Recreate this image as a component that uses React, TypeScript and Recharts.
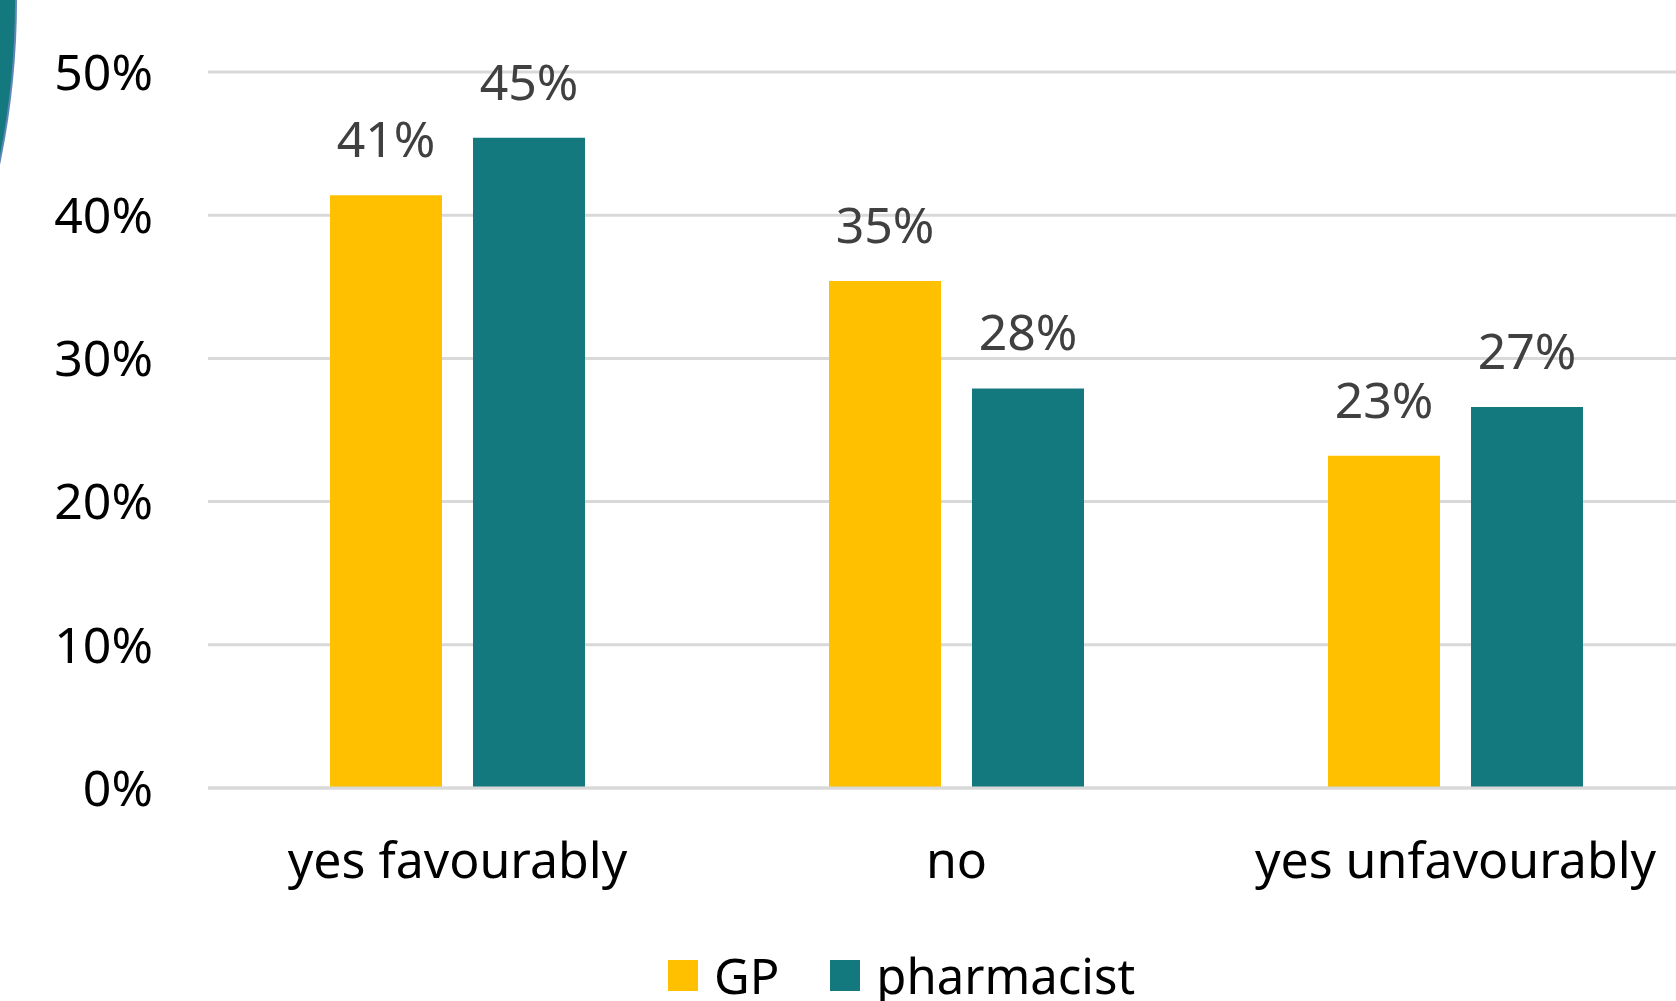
import React from "react";
import { BarChart, Bar, XAxis, YAxis, CartesianGrid, Legend, LabelList } from "recharts";

const categories = ["yes favourably", "no", "yes unfavourably"];
const gpValues = [41.4, 35.4, 23.2];
const pharmacistValues = [45.4, 27.9, 26.6];
const yTicks = [0, 10, 20, 30, 40, 50];

const GP_COLOR = "#FFC000";
const TEAL = "#14787F";
const FONT = "'Noto Sans', sans-serif";

const data = categories.map((name, i) => ({
  name,
  GP: gpValues[i],
  pharmacist: pharmacistValues[i],
}));

function LegendContent() {
  const items = [
    { label: "GP", color: GP_COLOR },
    { label: "pharmacist", color: TEAL },
  ];
  return (
    <div style={{ display: "flex", alignItems: "center", height: 60, fontFamily: FONT, fontSize: 49, color: "#000" }}>
      {items.map((it, i) => (
        <div key={it.label} style={{ display: "flex", alignItems: "center", marginRight: i === 0 ? 51 : 0 }}>
          <span style={{ display: "inline-block", width: 30, height: 31, background: it.color, marginRight: 16 }} />
          <span style={{ lineHeight: "60px" }}>{it.label}</span>
        </div>
      ))}
    </div>
  );
}

export default function App() {
  return (
    <div style={{ position: "absolute", left: 0, top: 0, width: 1676, height: 1001, overflow: "hidden", background: "#fff" }}>
      {/* decorative arc at the top-left edge */}
      <div
        style={{
          position: "absolute",
          left: -1601,
          top: -808,
          width: 1616,
          height: 1616,
          borderRadius: "50%",
          background: TEAL,
          boxShadow: "1px 0 0 1px #5f86b5",
        }}
      />
      <div style={{ position: "absolute", left: 0, top: 0 }}>
        <BarChart
          width={1710}
          height={1001}
          data={data}
          margin={{ top: 72, right: 5, bottom: 0, left: 0 }}
          barCategoryGap={122}
          barGap={31}
        >
          <CartesianGrid vertical={false} stroke="#D9D9D9" strokeWidth={3} />
          <XAxis
            dataKey="name"
            height={153}
            axisLine={{ stroke: "#D9D9D9", strokeWidth: 3 }}
            tickLine={false}
            tickSize={0}
            tickMargin={54}
            tick={{ fontFamily: FONT, fontSize: 50, fill: "#000" }}
          />
          <YAxis
            width={208}
            domain={[0, 50]}
            ticks={yTicks}
            axisLine={false}
            tickLine={false}
            tickSize={0}
            tickMargin={55}
            tickFormatter={(v: number) => `${v}%`}
            tick={{ fontFamily: FONT, fontSize: 50, fill: "#000" }}
          />
          <Legend
            verticalAlign="bottom"
            align="left"
            height={60}
            wrapperStyle={{ left: 668, top: 945, width: 700 }}
            content={() => <LegendContent />}
          />
          <Bar dataKey="GP" fill={GP_COLOR} isAnimationActive={false}>
            <LabelList
              dataKey="GP"
              position="top"
              offset={38}
              formatter={(v: number) => `${Math.round(v)}%`}
              style={{ fontFamily: FONT, fontSize: 50, fill: "#404040" }}
            />
          </Bar>
          <Bar dataKey="pharmacist" fill={TEAL} isAnimationActive={false}>
            <LabelList
              dataKey="pharmacist"
              position="top"
              offset={38}
              formatter={(v: number) => `${Math.round(v)}%`}
              style={{ fontFamily: FONT, fontSize: 50, fill: "#404040" }}
            />
          </Bar>
        </BarChart>
      </div>
    </div>
  );
}
